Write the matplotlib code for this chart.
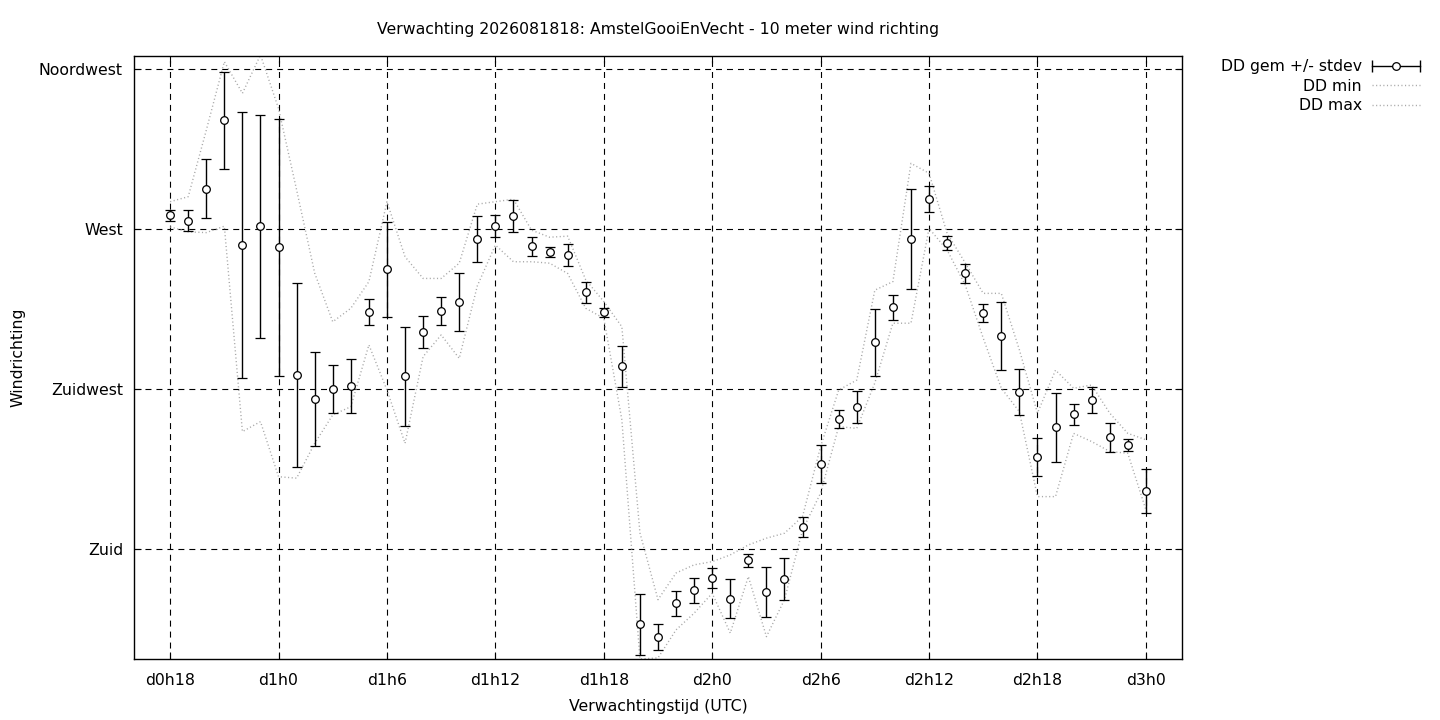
import matplotlib
matplotlib.use('Agg')
import matplotlib.pyplot as plt
from matplotlib.lines import Line2D
from matplotlib.legend_handler import HandlerLine2D

plt.rcParams['font.family'] = ['DejaVu Sans']
plt.rcParams['lines.scale_dashes'] = False

# ------------------------------------------------------------
# Data (hours since d0h0, wind direction in degrees)
# ------------------------------------------------------------
hours = [18, 19, 20, 21, 22, 23, 24, 25, 26, 27,
         28, 29, 30, 31, 32, 33, 34, 35, 36, 37,
         38, 39, 40, 41, 42, 43, 44, 45, 46, 47,
         48, 49, 50, 51, 52, 53, 54, 55, 56, 57,
         58, 59, 60, 61, 62, 63, 64, 65, 66, 67,
         68, 69, 70, 71, 72]

dd_mean = [273.9, 272.4, 281.4, 300.6, 265.4, 270.8, 264.9, 228.9, 222.1, 224.9,
           225.8, 246.6, 258.7, 228.6, 241.0, 246.9, 249.4, 267.1, 270.8, 273.7,
           265.2, 263.5, 262.7, 252.2, 246.6, 231.4, 158.8, 155.2, 164.7, 168.4,
           171.8, 165.9, 176.8, 167.8, 171.5, 186.2, 203.8, 216.6, 219.9, 238.1,
           248.0, 267.1, 278.4, 266.0, 257.5, 246.3, 239.8, 224.1, 205.9, 214.2,
           217.9, 221.8, 211.4, 209.2, 196.2]

dd_std = [1.6, 2.9, 8.2, 13.6, 37.4, 31.4, 36.2, 26.0, 13.2, 6.8,
          7.6, 3.7, 13.4, 13.9, 4.6, 3.9, 8.1, 6.5, 3.1, 4.5,
          2.7, 1.5, 3.0, 3.0, 1.3, 5.8, 8.6, 3.7, 3.5, 3.5,
          2.7, 5.5, 1.8, 7.0, 6.0, 2.8, 5.3, 2.5, 4.6, 9.5,
          3.5, 14.1, 3.6, 2.0, 2.6, 2.6, 9.6, 6.5, 5.3, 9.8,
          3.0, 3.7, 4.1, 1.7, 6.2]

dd_min = [270.6, 269.2, 269.0, 270.8, 213.0, 215.8, 200.3, 199.9, 209.7, 217.7,
          220.0, 237.4, 224.7, 209.7, 234.1, 240.2, 233.6, 254.0, 265.5, 260.8,
          260.8, 260.4, 257.5, 247.7, 244.9, 216.3, 149.0, 149.3, 157.2, 161.9,
          167.5, 156.3, 172.2, 155.3, 165.7, 185.3, 195.7, 214.4, 213.9, 226.7,
          243.5, 243.5, 270.2, 264.1, 254.3, 239.3, 225.2, 218.6, 194.7, 194.7,
          212.5, 210.2, 207.4, 206.9, 191.0]

dd_max = [277.7, 279.1, 297.8, 317.1, 308.2, 319.0, 303.9, 281.0, 257.6, 243.9,
          247.7, 255.2, 277.7, 262.2, 256.1, 256.1, 260.4, 277.0, 277.7, 278.4,
          269.7, 267.7, 268.0, 255.7, 249.6, 242.5, 184.5, 165.7, 173.2, 175.5,
          176.4, 178.3, 181.1, 183.0, 184.4, 189.1, 208.8, 224.7, 227.5, 252.8,
          255.2, 288.5, 285.7, 268.8, 260.5, 251.9, 251.9, 236.0, 218.2, 230.3,
          225.2, 226.1, 218.2, 212.5, 210.7]

tick_hours  = [18, 24, 30, 36, 42, 48, 54, 60, 66, 72]
tick_labels = ["d0h18", "d1h0", "d1h6", "d1h12", "d1h18",
               "d2h0", "d2h6", "d2h12", "d2h18", "d3h0"]

dir_values = [180, 225, 270, 315]
dir_labels = ["Zuid", "Zuidwest", "West", "Noordwest"]

TITLE = "Verwachting 2026081818: AmstelGooiEnVecht - 10 meter wind richting"
FS = 11.3

# ------------------------------------------------------------
# Figure
# ------------------------------------------------------------
fig = plt.figure(figsize=(14.4, 7.2), dpi=100)
ax = fig.add_axes([134 / 1440, 1 - 659 / 720, (1182 - 134) / 1440, (659 - 56) / 720])

dotted = (0, (0.8, 1.8))
grey = "#a8a8a8"

line_min, = ax.plot(hours, dd_min, color=grey, lw=1.0, linestyle=dotted, zorder=2)
line_max, = ax.plot(hours, dd_max, color=grey, lw=1.0, linestyle=dotted, zorder=2)

ax.errorbar(hours, dd_mean, yerr=dd_std, fmt="o", color="black",
            mfc="white", mec="black", ms=5.5, mew=0.9,
            elinewidth=1.0, capsize=3.6, capthick=1.0, zorder=3)

ax.set_xlim(16, 74)
ax.set_ylim(149.0, 318.7)

ax.set_xticks(tick_hours)
ax.set_xticklabels(tick_labels, fontsize=FS)
ax.set_yticks(dir_values)
ax.set_yticklabels(dir_labels, fontsize=FS)

ax.tick_params(axis="both", direction="in", length=5, width=0.8,
               top=True, right=True, color="black")
ax.tick_params(axis="x", pad=10)
ax.tick_params(axis="y", pad=8)

ax.grid(True, color="black", linewidth=0.8, linestyle=(0, (4.3, 3.6)), zorder=1)
ax.set_axisbelow(True)

for spine in ax.spines.values():
    spine.set_linewidth(1.0)
    spine.set_color("black")

fig.text(658 / 1440, 1 - 29.5 / 720, TITLE, ha="center", va="center", fontsize=FS)
fig.text(658 / 1440, 1 - 707 / 720, "Verwachtingstijd (UTC)",
         ha="center", va="center", fontsize=FS)
fig.text(18 / 1440, 1 - 357 / 720, "Windrichting", ha="center", va="center",
         rotation=90, fontsize=FS)

# legend in gnuplot style: text right-aligned, sample on the right
cap_proxy = Line2D([], [], color="black", lw=1.0, marker="|", ms=9, mew=1.0)
dot_proxy = Line2D([], [], linestyle="none", marker="o", mfc="white",
                   mec="black", ms=5.5, mew=0.9)
handles = [(cap_proxy, dot_proxy), line_min, line_max]
labels = ["DD gem +/- stdev", "DD min", "DD max"]

fig.legend(handles, labels, loc="upper right",
           bbox_to_anchor=(1420 / 1440, 1 - 59.5 / 720),
           frameon=False, markerfirst=False, fontsize=FS,
           handlelength=3.05, handletextpad=0.64, labelspacing=0.28,
           borderpad=0.0, borderaxespad=0.0,
           handler_map={cap_proxy: HandlerLine2D(numpoints=2, marker_pad=0.0),
                        dot_proxy: HandlerLine2D(numpoints=1)})

fig.savefig("out.png", dpi=100)
